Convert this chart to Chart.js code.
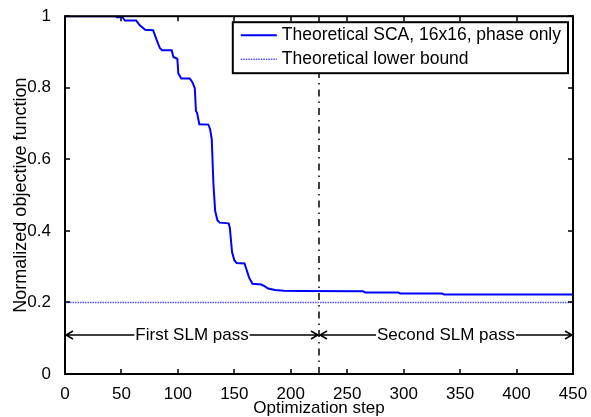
<!DOCTYPE html>
<html>
<head>
<meta charset="utf-8">
<script src="https://cdn.jsdelivr.net/npm/chart.js@4"></script>
<style>
  html, body { margin: 0; padding: 0; background: #fff; }
</style>
</head>
<body>
<canvas id="sca-chart" width="591" height="417"></canvas>
<script>
// optimization step and normalized objective value
const stepX = [0, 45, 46, 51, 53, 63, 66, 71, 78, 81, 84, 86, 94.5, 96, 99.5, 100.4, 103, 110.5, 113, 115,
    116, 117, 119, 127, 128.5, 130, 131.5, 133, 135, 137, 145, 146, 148, 150, 152, 159, 161, 163, 166, 174,
    177, 180, 186, 194, 208, 264, 266, 295, 297, 334, 336, 450];
const objective = [1, 1, 0.997, 0.997, 0.988, 0.988, 0.975, 0.962, 0.961, 0.935, 0.911, 0.905, 0.905, 0.886, 0.881, 0.84, 0.826, 0.826, 0.815, 0.798,
    0.735, 0.73, 0.698, 0.697, 0.685, 0.656, 0.53, 0.456, 0.43, 0.423, 0.421, 0.409, 0.34, 0.318, 0.31, 0.309, 0.29, 0.27, 0.252, 0.25,
    0.245, 0.239, 0.235, 0.233, 0.232, 0.231, 0.228, 0.228, 0.225, 0.225, 0.222, 0.222];

const lowerBound = 0.2;
const passBoundary = 225;
const passLabels = ['First SLM pass', 'Second SLM pass'];
const passRanges = [[0, 225], [225, 450]];
const passArrowY = 0.108;

const xTicks = [0, 50, 100, 150, 200, 250, 300, 350, 400, 450];
const yTicks = [0, 0.2, 0.4, 0.6, 0.8, 1];

const FONT = 'Arial, "Liberation Sans", sans-serif';

// inward ticks + box frame, like matlab axes
const frameTicks = {
    id: 'frameTicks',
    afterDatasetsDraw(chart) {
        const { ctx, chartArea: a, scales: { x, y } } = chart;
        ctx.save();
        ctx.strokeStyle = '#000';
        ctx.lineWidth = 1.5;
        ctx.beginPath();
        xTicks.forEach(v => {
            const px = Math.round(x.getPixelForValue(v));
            ctx.moveTo(px, a.bottom); ctx.lineTo(px, a.bottom - 5);
            ctx.moveTo(px, a.top); ctx.lineTo(px, a.top + 5);
        });
        yTicks.forEach(v => {
            const py = Math.round(y.getPixelForValue(v));
            ctx.moveTo(a.left, py); ctx.lineTo(a.left + 5, py);
            ctx.moveTo(a.right, py); ctx.lineTo(a.right - 5, py);
        });
        ctx.stroke();
        ctx.lineWidth = 2;
        ctx.strokeRect(a.left, a.top, a.right - a.left, a.bottom - a.top);
        ctx.restore();
    }
};

// double arrows with the pass names
const passArrows = {
    id: 'passArrows',
    afterDatasetsDraw(chart) {
        const { ctx, scales: { x, y } } = chart;
        const py = Math.round(y.getPixelForValue(passArrowY));
        ctx.save();
        ctx.font = '17px ' + FONT;
        ctx.fillStyle = '#000';
        ctx.strokeStyle = '#000';
        ctx.lineWidth = 1.5;
        ctx.textAlign = 'center';
        ctx.textBaseline = 'middle';
        passRanges.forEach((r, i) => {
            const x0 = x.getPixelForValue(r[0]);
            const x1 = x.getPixelForValue(r[1]);
            const mid = (x0 + x1) / 2;
            const w = ctx.measureText(passLabels[i]).width;
            ctx.fillText(passLabels[i], mid, py);
            ctx.beginPath();
            ctx.moveTo(x0, py); ctx.lineTo(mid - w / 2 - 1, py);
            ctx.moveTo(mid + w / 2 + 1, py); ctx.lineTo(x1, py);
            // heads
            ctx.moveTo(x0 + 8, py - 4); ctx.lineTo(x0 + 1, py); ctx.lineTo(x0 + 8, py + 4);
            ctx.moveTo(x1 - 8, py - 4); ctx.lineTo(x1 - 1, py); ctx.lineTo(x1 - 8, py + 4);
            ctx.stroke();
        });
        ctx.restore();
    }
};

// boxed legend in the top right corner of the axes
const boxLegend = {
    id: 'boxLegend',
    afterDraw(chart) {
        const { ctx, chartArea: a } = chart;
        const sets = chart.data.datasets.slice(0, 2);
        ctx.save();
        ctx.font = '17.5px ' + FONT;
        const textW = Math.max(...sets.map(d => ctx.measureText(d.label).width));
        const w = 8 + 36 + 5 + textW + 7;
        const h = 51;
        const left = a.right - 5 - w;
        const top = a.top + 6;
        ctx.fillStyle = '#fff';
        ctx.fillRect(left, top, w, h);
        ctx.strokeStyle = '#000';
        ctx.lineWidth = 2;
        ctx.strokeRect(left, top, w, h);
        sets.forEach((d, i) => {
            const yy = top + 13 + i * 24;
            ctx.beginPath();
            ctx.strokeStyle = d.borderColor;
            ctx.lineWidth = d.borderWidth;
            ctx.setLineDash(d.borderDash || []);
            ctx.moveTo(left + 8, yy); ctx.lineTo(left + 44, yy);
            ctx.stroke();
            ctx.setLineDash([]);
            ctx.fillStyle = '#000';
            ctx.textBaseline = 'middle';
            ctx.fillText(d.label, left + 49, yy);
        });
        ctx.restore();
    }
};

const ctx = document.getElementById('sca-chart').getContext('2d');

new Chart(ctx, {
    type: 'line',
    data: {
        datasets: [{
            label: 'Theoretical SCA, 16x16, phase only',
            data: stepX.map((s, i) => ({ x: s, y: objective[i] })),
            borderColor: '#0000ff',
            borderWidth: 2,
            pointRadius: 0,
            tension: 0
        }, {
            label: 'Theoretical lower bound',
            data: [{ x: 0, y: lowerBound }, { x: 450, y: lowerBound }],
            borderColor: 'rgb(80,80,255)',
            borderWidth: 1.5,
            borderDash: [1.5, 1],
            pointRadius: 0
        }, {
            label: 'pass boundary',
            data: [{ x: passBoundary, y: 0 }, { x: passBoundary, y: 1 }],
            borderColor: '#000',
            borderWidth: 1.5,
            borderDash: [7, 5, 1.5, 5],
            pointRadius: 0
        }]
    },
    options: {
        responsive: false,
        animation: false,
        devicePixelRatio: 1,
        layout: { padding: { left: 0, right: 18, top: 14, bottom: 0 } },
        plugins: {
            legend: { display: false },
            tooltip: { enabled: false }
        },
        scales: {
            x: {
                type: 'linear',
                min: 0,
                max: 450,
                grid: { display: false },
                border: { display: false },
                afterBuildTicks: s => { s.ticks = xTicks.map(v => ({ value: v })); },
                ticks: { color: '#000', padding: 2, maxRotation: 0, font: { family: FONT, size: 17 } },
                title: {
                    display: true,
                    text: 'Optimization step',
                    color: '#000',
                    padding: { top: 0, bottom: 0 },
                    font: { family: FONT, size: 17, lineHeight: 1 }
                },
                afterFit: s => { s.height = 43; }
            },
            y: {
                min: 0,
                max: 1,
                grid: { display: false },
                border: { display: false },
                afterBuildTicks: s => { s.ticks = yTicks.map(v => ({ value: v })); },
                ticks: {
                    color: '#000',
                    padding: 6,
                    font: { family: FONT, size: 17 },
                    callback: v => String(Number(v.toFixed(1)))
                },
                title: {
                    display: true,
                    text: 'Normalized objective function',
                    color: '#000',
                    padding: { top: 12, bottom: 0 },
                    font: { family: FONT, size: 18, lineHeight: 1 }
                },
                afterFit: s => { s.width = 65; }
            }
        }
    },
    plugins: [frameTicks, passArrows, boxLegend]
});
</script>
</body>
</html>
